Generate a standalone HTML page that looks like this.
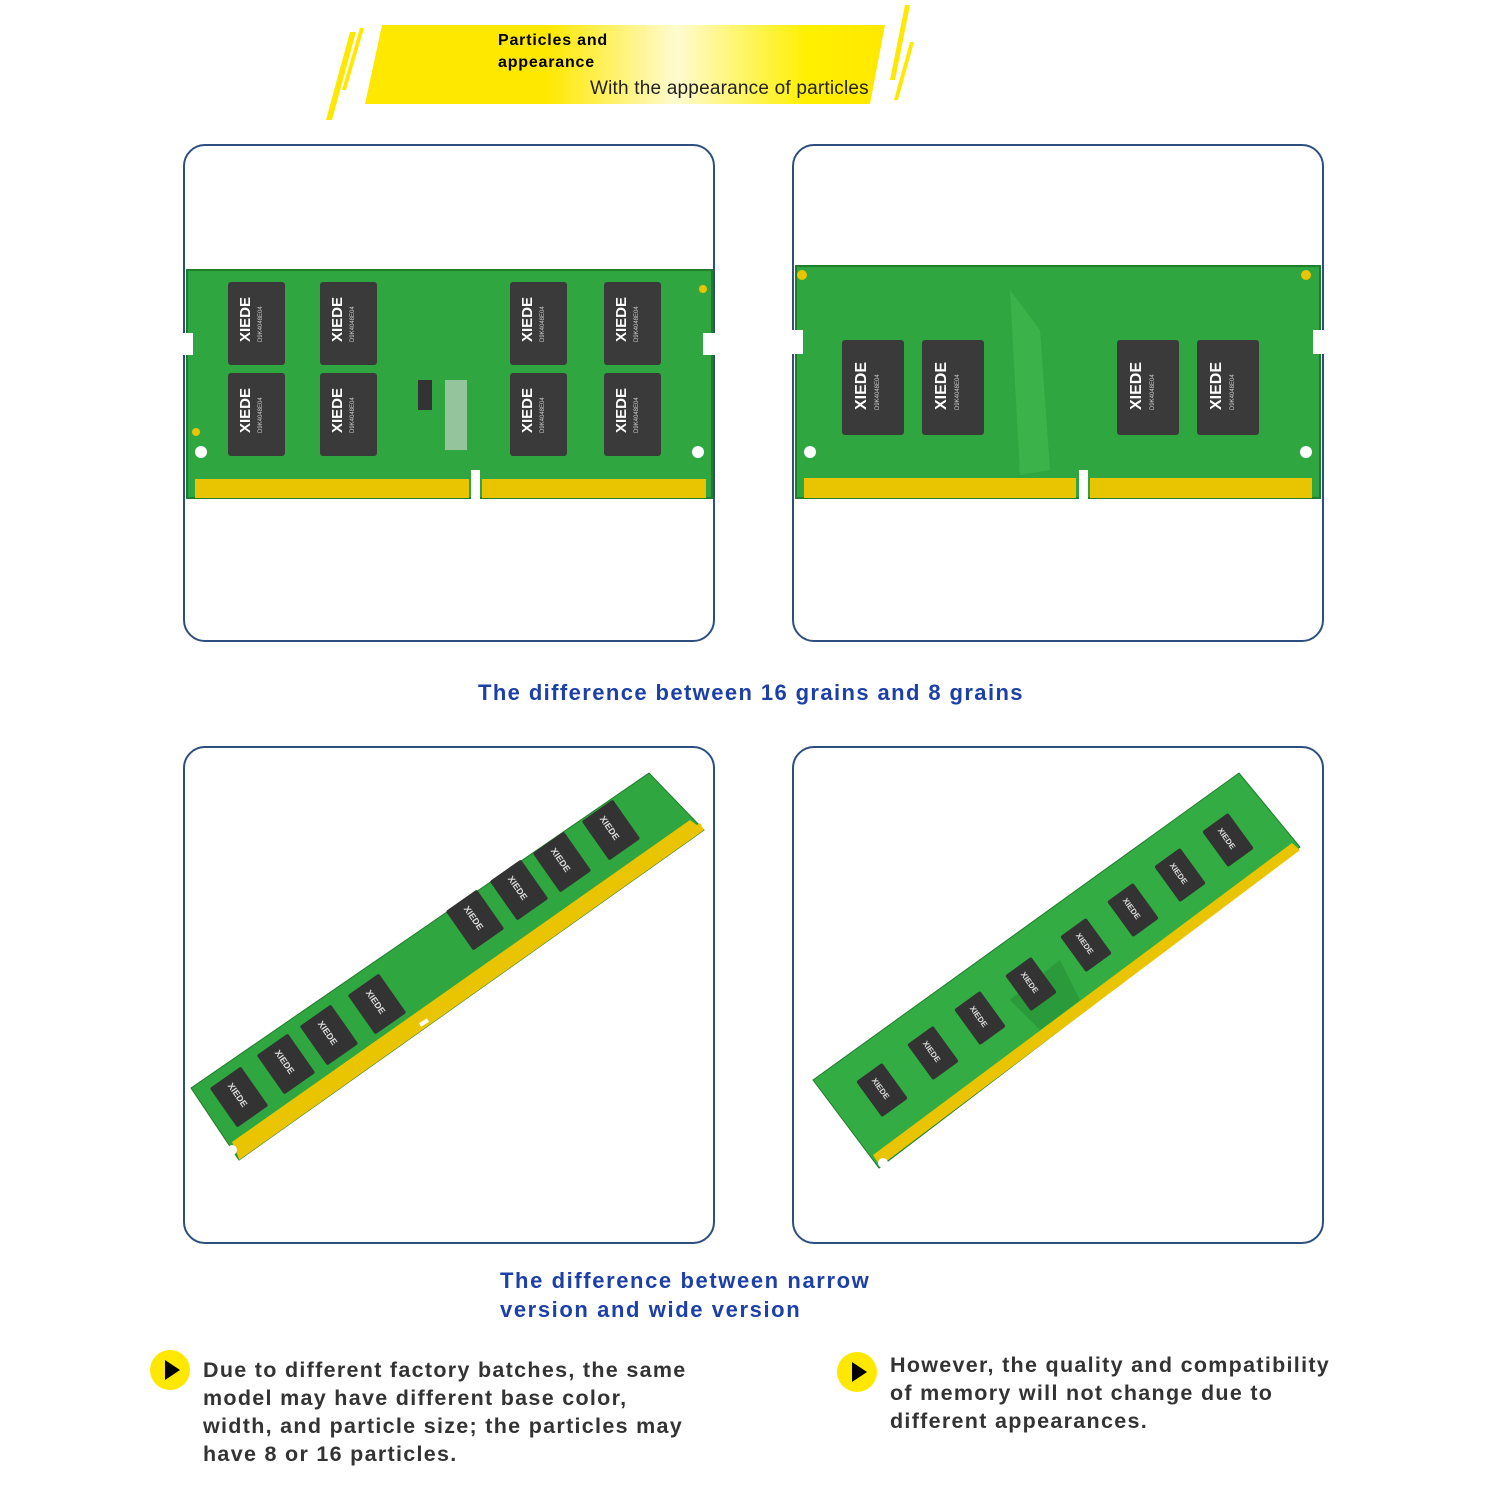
<!DOCTYPE html>
<html><head><meta charset="utf-8"><style>
body{margin:0;width:1500px;height:1500px;background:#fff;position:relative;overflow:hidden;font-family:"Liberation Sans",sans-serif}
.box{position:absolute;border:2px solid #2d4f80;border-radius:22px;width:528px;height:494px;background:#fff}
.t{position:absolute;font-weight:bold;color:#1c3fa8;font-size:22px}
.b{position:absolute;font-weight:bold;color:#333;font-size:21.5px;line-height:28px;letter-spacing:1.3px}
.dot{position:absolute;width:40px;height:40px;border-radius:50%;background:#ffe800}
.dot:after{content:"";position:absolute;left:15px;top:10px;border-left:15px solid #000;border-top:10px solid transparent;border-bottom:10px solid transparent}
</style></head><body>
<svg width="1500" height="130" style="position:absolute;left:0;top:0">
<defs><linearGradient id="g" x1="0" x2="1"><stop offset="0" stop-color="#ffe800"/><stop offset="0.35" stop-color="#ffe800"/><stop offset="0.6" stop-color="#fffbd0"/><stop offset="0.85" stop-color="#fff000"/><stop offset="1" stop-color="#ffe800"/></linearGradient></defs>
<polygon points="382,25 885,25 870,104 365,104" fill="url(#g)"/>
<polygon points="350,32 356,32 332,120 326,120" fill="#ffe800"/>
<polygon points="360,28 364,28 346,90 342,90" fill="#ffe800"/>
<polygon points="905,5 910,5 895,80 890,80" fill="#ffe800"/>
<polygon points="910,42 914,42 898,100 894,100" fill="#ffe800"/>
<text x="498" y="45" font-size="16" font-weight="bold" font-family="Liberation Sans" letter-spacing="0.8">Particles and</text>
<text x="498" y="67" font-size="16" font-weight="bold" font-family="Liberation Sans" letter-spacing="0.8">appearance</text>
<text x="590" y="94" font-size="19" font-family="Liberation Sans" fill="#222" letter-spacing="0.2">With the appearance of particles</text>
</svg>
<div class="box" style="left:183px;top:144px"></div>
<div class="box" style="left:792px;top:144px"></div>
<div class="box" style="left:183px;top:746px"></div>
<div class="box" style="left:792px;top:746px"></div>
<svg width="1500" height="1300" style="position:absolute;left:0;top:0">
<defs>
<g id="chip"><rect width="57" height="83" rx="3" fill="#3a3a3a"/><text transform="translate(22,60) rotate(-90)" font-size="15" font-weight="bold" fill="#fff" font-family="Liberation Sans">XIEDE</text><text transform="translate(34,60) rotate(-90)" font-size="6" fill="#ccc" font-family="Liberation Sans">D9K4048E04</text></g>
<g id="chip2"><rect width="62" height="95" rx="3" fill="#3a3a3a"/><text transform="translate(24,70) rotate(-90)" font-size="16" font-weight="bold" fill="#fff" font-family="Liberation Sans">XIEDE</text><text transform="translate(37,70) rotate(-90)" font-size="6" fill="#ccc" font-family="Liberation Sans">D9K4048E04</text></g>
<g id="sc"><rect x="-19" y="-24" width="38" height="48" rx="2" fill="#333" transform="rotate(-35)"/><text transform="rotate(55)" x="-16" y="3" font-size="9" font-weight="bold" fill="#ddd" font-family="Liberation Sans">XIEDE</text></g>
<g id="sc2"><rect x="-16" y="-22" width="32" height="44" rx="2" fill="#333" transform="rotate(-36)"/><text transform="rotate(54)" x="-14" y="3" font-size="8" font-weight="bold" fill="#ddd" font-family="Liberation Sans">XIEDE</text></g>
</defs>
<!-- module 1 -->
<rect x="187" y="270" width="525" height="228" fill="#2fa640"/>
<rect x="187" y="270" width="525" height="228" fill="none" stroke="#1f7d2c" stroke-width="2"/>
<rect x="195" y="479" width="274" height="19" fill="#e9c400"/><rect x="482" y="479" width="224" height="19" fill="#e9c400"/>
<rect x="471" y="470" width="9" height="30" fill="#fff"/>
<rect x="180" y="333" width="13" height="22" fill="#fff"/><rect x="703" y="333" width="14" height="22" fill="#fff"/>
<circle cx="201" cy="452" r="6" fill="#fff"/><circle cx="698" cy="452" r="6" fill="#fff"/>
<circle cx="196" cy="432" r="4" fill="#e9c400"/><circle cx="703" cy="289" r="4" fill="#e9c400"/>
<use href="#chip" x="228" y="282"/><use href="#chip" x="320" y="282"/><use href="#chip" x="510" y="282"/><use href="#chip" x="604" y="282"/>
<use href="#chip" x="228" y="373"/><use href="#chip" x="320" y="373"/><use href="#chip" x="510" y="373"/><use href="#chip" x="604" y="373"/>
<rect x="418" y="380" width="14" height="30" fill="#333"/><rect x="445" y="380" width="22" height="70" fill="#d8d8d8" opacity="0.6"/>
<!-- module 2 -->
<rect x="796" y="266" width="524" height="232" fill="#2fa640"/>
<rect x="796" y="266" width="524" height="232" fill="none" stroke="#1f7d2c" stroke-width="2"/>
<path d="M1010,290 L1040,330 L1050,470 L1020,475 Z" fill="#3bb34a"/>
<rect x="804" y="478" width="272" height="20" fill="#e9c400"/><rect x="1090" y="478" width="222" height="20" fill="#e9c400"/>
<rect x="1079" y="470" width="9" height="30" fill="#fff"/>
<rect x="789" y="330" width="14" height="24" fill="#fff"/><rect x="1313" y="330" width="14" height="24" fill="#fff"/>
<circle cx="810" cy="452" r="6" fill="#fff"/><circle cx="1306" cy="452" r="6" fill="#fff"/>
<circle cx="802" cy="275" r="5" fill="#e9c400"/><circle cx="1306" cy="275" r="5" fill="#e9c400"/>
<use href="#chip2" x="842" y="340"/><use href="#chip2" x="922" y="340"/><use href="#chip2" x="1117" y="340"/><use href="#chip2" x="1197" y="340"/>
<!-- diagonal left -->
<polygon points="191,1088 649,773 704,830 239,1160" fill="#2fa640" stroke="#1f7d2c"/>
<polygon points="236,1148 700,823 704,830 239,1160" fill="#e9c400"/>
<polygon points="232,1142 690,820 702,829 238,1156" fill="#e9c400"/>
<line x1="420" y1="1025" x2="428" y2="1020" stroke="#fff" stroke-width="4"/>
<use href="#sc" x="239" y="1097"/><use href="#sc" x="286" y="1064"/><use href="#sc" x="329" y="1035"/><use href="#sc" x="377" y="1004"/>
<use href="#sc" x="475" y="920"/><use href="#sc" x="519" y="890"/><use href="#sc" x="562" y="862"/><use href="#sc" x="611" y="830"/>
<circle cx="232" cy="1150" r="5" fill="#fff"/>
<!-- diagonal right -->
<polygon points="813,1080 1239,773 1300,847 879,1168" fill="#33ac44" stroke="#1f7d2c"/>
<polygon points="873,1155 1292,843 1300,850 880,1166" fill="#e9c400"/>
<polygon points="1010,1000 1060,960 1080,1000 1040,1030" fill="#2a9a3a"/>
<use href="#sc2" x="882" y="1090"/><use href="#sc2" x="933" y="1053"/><use href="#sc2" x="980" y="1018"/><use href="#sc2" x="1031" y="984"/>
<use href="#sc2" x="1086" y="945"/><use href="#sc2" x="1133" y="910"/><use href="#sc2" x="1180" y="875"/><use href="#sc2" x="1228" y="840"/>
<circle cx="883" cy="1163" r="5" fill="#fff"/>
</svg>
<div class="t" style="left:478px;top:680px;letter-spacing:1.4px">The difference between 16 grains and 8 grains</div>
<div class="t" style="left:500px;top:1266px;line-height:29px;letter-spacing:1.6px">The difference between narrow<br>version and wide version</div>
<div class="dot" style="left:150px;top:1350px"></div>
<div class="b" style="left:203px;top:1356px">Due to different factory batches, the same<br>model may have different base color,<br>width, and particle size; the particles may<br>have 8 or 16 particles.</div>
<div class="dot" style="left:837px;top:1352px"></div>
<div class="b" style="left:890px;top:1351px">However, the quality and compatibility<br>of memory will not change due to<br>different appearances.</div>
</body></html>
